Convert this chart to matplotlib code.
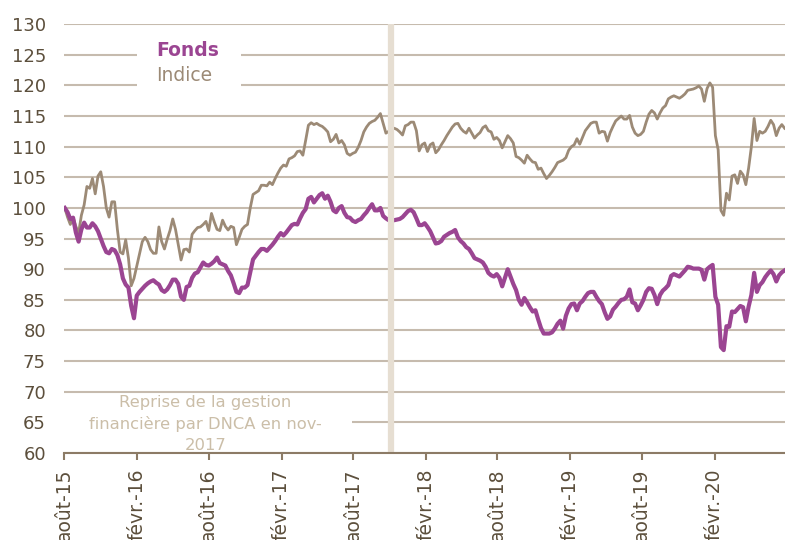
import matplotlib
matplotlib.use("Agg")
import matplotlib.pyplot as plt
from matplotlib.patches import Rectangle
from matplotlib.lines import Line2D
import pandas as pd

# Valeurs hebdomadaires (base 100 en aout 2015)
fonds = [
    100, 99.3, 98.2, 98.4, 96.0, 94.5, 96.5, 97.6, 96.8, 96.8,
    97.5, 97.0, 96.2, 95.0, 93.8, 92.8, 92.6, 93.3, 93.1, 92.3,
    90.8, 88.5, 87.5, 87.0, 84.0, 82.0, 85.7, 86.3, 86.8, 87.3,
    87.7, 88.0, 88.2, 87.8, 87.5, 86.6, 86.3, 86.7, 87.4, 88.3,
    88.3, 87.6, 85.5, 85.0, 87.1, 87.3, 88.6, 89.3, 89.5, 90.3,
    91.1, 90.7, 90.6, 90.9, 91.3, 91.9, 91.0, 90.8, 90.6, 89.7,
    89.0, 87.7, 86.3, 86.1, 87.0, 87.0, 87.4, 89.5, 91.6, 92.2,
    92.8, 93.3, 93.3, 93.0, 93.5, 94.0, 94.6, 95.3, 95.9, 95.5,
    96.0, 96.6, 97.2, 97.4, 97.3, 98.3, 99.2, 99.8, 101.5, 101.8,
    100.9, 101.5, 102.1, 102.4, 101.5, 102.0, 101.0, 99.6, 99.3, 100.0,
    100.3, 99.2, 98.5, 98.4, 97.9, 97.7, 98.0, 98.2, 98.8, 99.3,
    100.0, 100.6, 99.6, 99.6, 100.0, 98.7, 98.3, 98.0, 98.0, 98.0,
    98.1, 98.2, 98.5, 99.0, 99.5, 99.7, 99.3, 98.3, 97.2, 97.2,
    97.5, 96.9, 96.2, 95.2, 94.2, 94.3, 94.6, 95.3, 95.6, 95.9,
    96.1, 96.4, 95.2, 94.6, 94.2, 93.6, 93.3, 92.6, 91.8, 91.6,
    91.4, 91.1, 90.4, 89.4, 89.0, 88.8, 89.2, 88.6, 87.2, 88.6,
    90.0, 88.8, 87.6, 86.6, 85.0, 84.2, 85.3, 84.6, 83.8, 83.1,
    83.3, 81.8, 80.4, 79.5, 79.5, 79.5, 79.7, 80.3, 81.1, 81.6,
    80.3, 82.4, 83.6, 84.3, 84.4, 83.3, 84.4, 84.8, 85.5, 86.1,
    86.3, 86.3, 85.5, 84.8, 84.3, 83.0, 81.9, 82.3, 83.4, 83.9,
    84.5, 85.0, 85.1, 85.5, 86.7, 84.6, 84.4, 83.3, 84.1, 85.0,
    86.3, 86.9, 86.8, 85.8, 84.3, 85.8, 86.5, 86.9, 87.4, 88.9,
    89.2, 89.0, 88.8, 89.3, 89.8, 90.4, 90.3, 90.1, 90.1, 90.1,
    89.9, 88.3, 90.0, 90.4, 90.7, 85.5, 84.2, 77.3, 76.8, 80.7,
    80.6, 83.1, 83.0, 83.5, 84.0, 83.8, 81.5, 83.9, 85.8, 89.4,
    86.3, 87.4, 87.9, 88.7, 89.3, 89.8, 89.2, 88.0, 89.0, 89.5,
    89.8,
]

indice = [
    100, 98.5, 97.3, 98.5, 97.0, 95.9, 98.8, 100.5, 103.5, 103.2,
    104.8, 102.3, 105.2, 105.9, 103.5, 100.0, 98.5, 101.0, 101.0, 96.5,
    92.8, 92.5, 94.8, 91.8, 87.3, 88.5, 90.5, 92.5, 94.5, 95.2,
    94.5, 93.2, 92.6, 92.6, 96.9, 94.5, 93.3, 94.9, 96.3, 98.2,
    96.5, 94.0, 91.5, 93.2, 93.3, 92.8, 95.7, 96.3, 96.8, 96.9,
    97.3, 97.8, 96.3, 99.1, 97.7, 96.5, 96.3, 98.0, 97.0, 96.4,
    97.0, 96.8, 94.0, 95.2, 96.5, 97.0, 97.3, 100.0, 102.2, 102.5,
    102.8, 103.7, 103.7, 103.6, 104.2, 103.8, 104.8, 105.7, 106.5, 107.0,
    106.8, 108.0, 108.2, 108.5, 109.2, 109.3, 108.6, 111.0, 113.5, 113.9,
    113.6, 113.8, 113.5, 113.3, 112.9, 112.4, 110.8, 111.2, 112.0, 110.6,
    111.0, 110.3, 108.9, 108.6, 108.9, 109.1, 109.9, 111.0, 112.4, 113.2,
    113.8, 114.1, 114.3, 114.8, 115.4, 113.8, 112.2, 112.5, 112.8, 113.0,
    112.8, 112.4, 111.9, 113.4, 113.6, 114.0, 114.0, 112.6, 109.3, 110.3,
    110.6, 109.2, 110.3, 110.6, 109.0, 109.5, 110.3, 111.0, 111.8, 112.5,
    113.2, 113.7, 113.8, 113.0, 112.5, 112.2, 113.0, 112.2, 111.4, 111.9,
    112.3, 113.1, 113.4, 112.6, 112.4, 111.2, 111.5, 111.0, 109.8, 110.8,
    111.8, 111.3, 110.6, 108.4, 108.2, 107.8, 107.3, 108.6, 108.0, 107.5,
    107.4, 106.3, 106.5, 105.6, 104.8, 105.3, 105.9, 106.6, 107.4, 107.6,
    107.8, 108.2, 109.4, 110.0, 110.3, 111.3, 110.4, 111.5, 112.6, 113.2,
    113.8, 114.0, 114.0, 112.2, 112.5, 112.4, 110.9, 112.3, 113.3, 114.2,
    114.6, 115.0, 114.5, 114.5, 115.1, 113.2, 112.2, 111.8, 112.0, 112.5,
    114.0, 115.3, 115.9, 115.5, 114.5, 115.5, 116.3, 116.7, 117.8, 118.1,
    118.3, 118.1, 117.9, 118.2, 118.6, 119.2, 119.3, 119.4, 119.6, 119.9,
    119.4, 117.4, 119.5, 120.4, 119.7, 111.8, 109.5, 99.6, 98.8, 102.4,
    101.3, 105.2, 105.4, 104.0, 106.0, 105.4, 103.8, 106.5, 110.0, 114.6,
    111.0, 112.5, 112.2, 112.5, 113.3, 114.3, 113.6, 111.8, 113.0, 113.6,
    113.0,
]

dates = pd.date_range("2015-08-03", periods=len(fonds), freq="7D")

tick_dates = pd.to_datetime(["2015-08-01", "2016-02-01", "2016-08-01", "2017-02-01",
                             "2017-08-01", "2018-02-01", "2018-08-01", "2019-02-01",
                             "2019-08-01", "2020-02-01"])
tick_labels = ["août-15", "févr.-16", "août-16", "févr.-17", "août-17",
               "févr.-18", "août-18", "févr.-19", "août-19", "févr.-20"]
y_ticks = list(range(60, 131, 5))

date_dnca = pd.Timestamp("2017-11-05")
note = "Reprise de la gestion\nfinancière par DNCA en nov-\n2017"

c_fonds = "#9b4592"
c_indice = "#9c8a76"
c_grid = "#c6bbae"
c_txt = "#5c4f3c"
c_axis = "#8c7b66"

plt.rcParams["font.family"] = ["DejaVu Sans"]

fig = plt.figure(figsize=(7.85, 5.4), dpi=100)
ax = fig.add_axes([0.0815, 0.161, 0.9185, 0.7944])

ax.plot(dates, indice, color=c_indice, lw=2.0, zorder=2, solid_joinstyle="round")
ax.plot(dates, fonds, color=c_fonds, lw=3.0, zorder=2.1, solid_joinstyle="round")

# barre verticale : reprise par DNCA
ax.axvline(date_dnca, color="#e6ded2", lw=4.5, zorder=3)

ax.set_ylim(60, 130)
ax.set_yticks(y_ticks)
ax.set_xlim(pd.Timestamp("2015-08-01"), pd.Timestamp("2020-07-28"))
ax.set_xticks(tick_dates)
ax.set_xticklabels(tick_labels, rotation=90)

ax.set_axisbelow(True)
ax.yaxis.grid(True, color=c_grid, lw=1.5)
ax.xaxis.grid(False)
for s in ["top", "right", "left"]:
    ax.spines[s].set_visible(False)
ax.spines["bottom"].set_color(c_axis)
ax.spines["bottom"].set_linewidth(1.5)
ax.spines["bottom"].set_zorder(4)

ax.tick_params(axis="y", length=0, pad=13, labelsize=13, labelcolor=c_txt)
ax.tick_params(axis="x", length=5, width=1.5, color=c_axis, pad=6,
               labelsize=13.5, labelcolor=c_txt, direction="out")

# cache blanc derriere la legende et la note
ax.add_patch(Rectangle((0.101, 0.842), 0.144, 0.144, transform=ax.transAxes,
                       facecolor="white", edgecolor="none", zorder=1))
ax.add_patch(Rectangle((0.0, 0.005), 0.399, 0.125, transform=ax.transAxes,
                       facecolor="white", edgecolor="none", zorder=1))

handles = [Line2D([], [], color=c_fonds, lw=0), Line2D([], [], color=c_indice, lw=0)]
leg = ax.legend(handles, ["Fonds", "Indice"], loc="upper left",
                bbox_to_anchor=(0.128, 0.96), frameon=False, handlelength=0,
                handletextpad=0, borderpad=0, borderaxespad=0, labelspacing=0.3,
                fontsize=13.5)
leg.get_texts()[0].set_color(c_fonds)
leg.get_texts()[0].set_fontweight("bold")
leg.get_texts()[1].set_color(c_indice)

ax.text(0.196, 0.068, note, transform=ax.transAxes, ha="center", va="center",
        fontsize=11.8, color="#cbbea8", linespacing=1.5, zorder=5)

fig.savefig("out.png", dpi=100)
